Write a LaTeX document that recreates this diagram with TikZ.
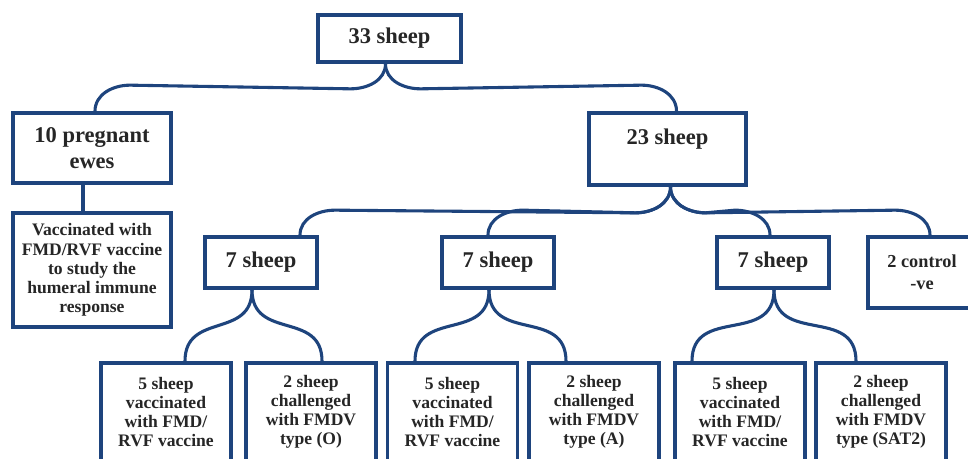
\documentclass[tikz,border=0pt]{standalone}
\usepackage{fontspec}
\setmainfont{Liberation Serif}
\usetikzlibrary{calc}

\definecolor{boxblue}{RGB}{30,68,125}

\tikzset{
  box/.style={draw=boxblue, line width=2.6pt, fill=white, align=center, inner sep=0pt, text=black!85},
  big/.style={font=\fontsize{16}{19}\selectfont\bfseries},
  small/.style={font=\fontsize{12.5}{13.6}\selectfont\bfseries},
  group/.style={box, big, minimum width=2.8cm, minimum height=1.275cm},
  leaf/.style={box, small, minimum width=3.25cm, minimum height=2.45cm},
  link/.style={draw=boxblue, line width=2.2pt},
}

\begin{document}
\begin{tikzpicture}[x=0.025cm, y=-0.025cm]
    \useasboundingbox (0,0) rectangle (968,459);
    \clip (0,0) rectangle (968,459);

    % top levels
    \node[box,big,minimum width=3.575cm,minimum height=1.175cm] (s33) at (389.5,38.5) {33 sheep};
    \node[box,big,minimum width=3.95cm,minimum height=1.75cm] (s10) at (92,148) {10 pregnant\\ewes};
    \node[box,small,minimum width=3.95cm,minimum height=2.85cm] (vac) at (92,270)
        {Vaccinated with\\FMD/RVF vaccine\\to study the\\humeral immune\\response};
    \node[box,big,minimum width=3.925cm,minimum height=1.8cm,text depth=0.6cm] (s23) at (667.5,149) {23 sheep};

    % groups of the 23
    \node[group] (s7a) at (261,262.5) {7 sheep};
    \node[group] (s7b) at (498,262.5) {7 sheep};
    \node[group] (s7c) at (773,262.5) {7 sheep};
    \node[box,font=\fontsize{13}{15.5}\selectfont\bfseries,minimum width=2.7cm,minimum height=1.775cm] (ctrl) at (922,272.5) {2 control\\-ve};

    % leaves
    \node[leaf] (a1) at (166,412) {5 sheep\\vaccinated\\with FMD/\\RVF vaccine};
    \node[leaf] (a2) at (311,412) {2 sheep\\challenged\\with FMDV\\type (O)};
    \node[leaf] (b1) at (452.5,412) {5 sheep\\vaccinated\\with FMD/\\RVF vaccine};
    \node[leaf] (b2) at (594,412) {2 sheep\\challenged\\with FMDV\\type (A)};
    \node[leaf] (c1) at (740,412) {5 sheep\\vaccinated\\with FMD/\\RVF vaccine};
    \node[leaf] (c2) at (881,412) {2 sheep\\challenged\\with FMDV\\type (SAT2)};

    % 33 -> 10, 23
    \draw[link] ($(s33.south)+(-4,0)$) to[out=-90,in=0] ++(-35,25) -- ($(s10.north)+(38,-26)$) to[out=180,in=90] ($(s10.north)+(3,0)$);
    \draw[link] ($(s33.south)+(-4,0)$) to[out=-90,in=180] ++(35,25) -- ($(s23.north)+(-26,-26)$) to[out=0,in=90] ($(s23.north)+(9,0)$);
    \draw[link] ($(s10.south)+(-9,0)$) -- ($(vac.north)+(-9,0)$);

    % 23 -> groups
    \draw[link] ($(s23.south)+(3,0)$) to[out=-90,in=0] ++(-35,26) -- ($(s7a.north)+(74,-25)$) to[out=180,in=90] ($(s7a.north)+(39,0)$);
    \draw[link] ($(s23.south)+(3,0)$) to[out=-90,in=0] ++(-35,26) -- ($(s7b.north)+(25,-25)$) to[out=180,in=90] ($(s7b.north)+(-10,0)$);
    \draw[link] ($(s23.south)+(3,0)$) to[out=-90,in=180] ++(35,26) -- ($(s7c.north)+(-38,-25)$) to[out=0,in=90] ($(s7c.north)+(-3,0)$);
    \draw[link] ($(s23.south)+(3,0)$) to[out=-90,in=180] ++(35,26) -- ($(ctrl.north)+(-27,-25)$) to[out=0,in=90] ($(ctrl.north)+(8,0)$);

    % groups -> leaves
    \draw[link] ($(s7a.south)+(-9,0)$) to[out=-90,in=90,looseness=1.3] ($(a1.north)+(19,0)$);
    \draw[link] ($(s7a.south)+(-9,0)$) to[out=-90,in=90,looseness=1.3] ($(a2.north)+(11,0)$);
    \draw[link] ($(s7b.south)+(-9,0)$) to[out=-90,in=90,looseness=1.3] ($(b1.north)+(-37.5,0)$);
    \draw[link] ($(s7b.south)+(-9,0)$) to[out=-90,in=90,looseness=1.3] ($(b2.north)+(-28,0)$);
    \draw[link] ($(s7c.south)+(1,0)$) to[out=-90,in=90,looseness=1.3] ($(c1.north)+(-48,0)$);
    \draw[link] ($(s7c.south)+(1,0)$) to[out=-90,in=90,looseness=1.3] ($(c2.north)+(-25,0)$);
\end{tikzpicture}
\end{document}
